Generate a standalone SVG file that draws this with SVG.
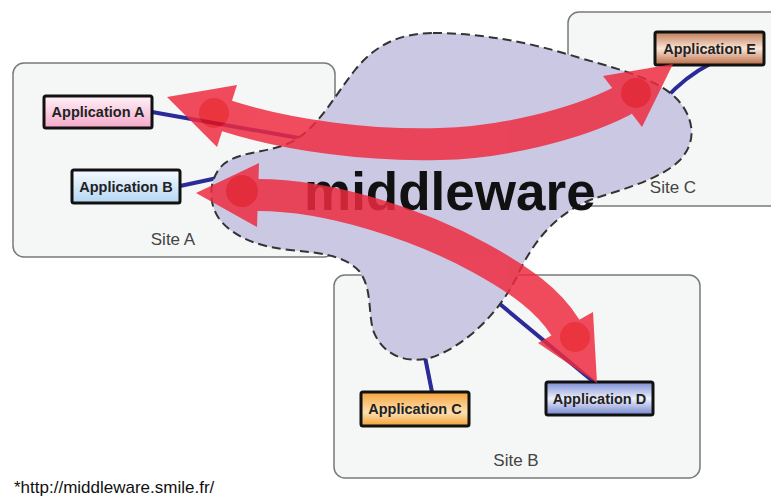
<svg xmlns="http://www.w3.org/2000/svg" width="771" height="501" viewBox="0 0 771 501">
  <defs>
    <linearGradient id="gPink" x1="0" y1="0" x2="0" y2="1">
      <stop offset="0" stop-color="#fff2f8"/>
      <stop offset="1" stop-color="#f4a9c8"/>
    </linearGradient>
    <linearGradient id="gSky" x1="0" y1="0" x2="0" y2="1">
      <stop offset="0" stop-color="#f6fbff"/>
      <stop offset="1" stop-color="#b4d6f2"/>
    </linearGradient>
    <linearGradient id="gBrown" x1="0" y1="0" x2="0" y2="1">
      <stop offset="0" stop-color="#c07a55"/>
      <stop offset="0.5" stop-color="#fae6d8"/>
      <stop offset="1" stop-color="#b86c46"/>
    </linearGradient>
    <linearGradient id="gOrange" x1="0" y1="0" x2="0" y2="1">
      <stop offset="0" stop-color="#f6a23a"/>
      <stop offset="0.6" stop-color="#fde0b2"/>
      <stop offset="1" stop-color="#f2a033"/>
    </linearGradient>
    <linearGradient id="gBlue" x1="0" y1="0" x2="0" y2="1">
      <stop offset="0" stop-color="#7a8cd4"/>
      <stop offset="0.5" stop-color="#eef0fb"/>
      <stop offset="1" stop-color="#7486cf"/>
    </linearGradient>
  </defs>
  <style>
    .site { fill: #f5f6f6; stroke: #7a7a7a; stroke-width: 1.5; }
    .site-label { font-family: "Liberation Sans", Arial, sans-serif; font-size: 17px; fill: #444; text-anchor: middle; }
    .link { fill: none; stroke: #2a2a98; stroke-width: 4; }
    .cloud { fill: #cbc8e4; stroke: #333; stroke-width: 2; stroke-dasharray: 9 5; }
    .app { stroke: #111; stroke-width: 3; }
    .app-label { font-family: "Liberation Sans", Arial, sans-serif; font-weight: bold; font-size: 14.5px; fill: #222; text-anchor: middle; }
    .flow { fill: none; stroke: #ee2b3f; stroke-width: 32; }
    .head { fill: #ee2b3f; }
    .glow { fill: #e8101c; }
  </style>

  <rect width="771" height="501" fill="#ffffff"/>

  <!-- sites -->
  <g id="site-a">
    <rect class="site" x="13" y="63" width="322" height="194" rx="11"/>
    <text class="site-label" x="173" y="245">Site A</text>
  </g>
  <g id="site-c">
    <rect class="site" x="568" y="12" width="220" height="194" rx="11"/>
    <text class="site-label" x="673" y="193">Site C</text>
  </g>
  <g id="site-b">
    <rect class="site" x="334" y="275" width="366" height="203" rx="11"/>
    <text class="site-label" x="516" y="466">Site B</text>
  </g>

  <!-- links from applications into the middleware -->
  <g id="connectors">
    <path class="link" d="M152,112 L310,140"/>
    <path class="link" d="M180,186 L222,177"/>
    <path class="link" d="M710,64 Q686,76 664,100"/>
    <path class="link" d="M432,392 L424,352"/>
    <path class="link" d="M595,383 L495,300"/>
  </g>

  <!-- middleware cloud -->
  <g id="middleware">
    <path class="cloud" d="M433,33 C480,33 530,42 580,58 C630,72 665,82 682,105 C696,125 694,145 680,160 C660,180 620,190 590,200 C555,215 535,240 520,270 C505,305 470,345 430,358 C400,365 380,350 373,330 C368,310 372,290 360,272 C345,255 320,253 290,250 C260,247 235,238 220,220 C205,200 210,170 230,160 C250,150 275,152 295,140 C320,125 335,95 355,70 C375,45 400,33 433,33 Z"/>
  </g>

  <!-- applications -->
  <g id="app-a">
    <rect class="app" x="44" y="96" width="108" height="32" rx="2" fill="url(#gPink)"/>
    <text class="app-label" x="98" y="117">Application A</text>
  </g>
  <g id="app-b">
    <rect class="app" x="72" y="170" width="108" height="33" rx="2" fill="url(#gSky)"/>
    <text class="app-label" x="126" y="191.5">Application B</text>
  </g>
  <g id="app-e">
    <rect class="app" x="655" y="32" width="109" height="33" rx="2" fill="url(#gBrown)"/>
    <text class="app-label" x="709.5" y="53.5">Application E</text>
  </g>
  <g id="app-c">
    <rect class="app" x="361" y="392" width="108" height="34" rx="2" fill="url(#gOrange)"/>
    <text class="app-label" x="415" y="414">Application C</text>
  </g>
  <g id="app-d">
    <rect class="app" x="546" y="382" width="107" height="33" rx="2" fill="url(#gBlue)"/>
    <text class="app-label" x="599.5" y="403.5">Application D</text>
  </g>

  <text x="304" y="210" font-family="'Liberation Sans', Arial, sans-serif" font-weight="bold" font-size="53" fill="#111">middleware</text>

  <!-- message flows across the middleware -->
  <g id="flow-a-e" opacity="0.84">
    <path class="flow" d="M222,114 L227,116 C290,136 370,146 440,144 C500,143 575,125 622,101 L628,97"/>
    <polygon class="head" points="167,97 237,85 217,147"/>
    <polygon class="head" points="673,64 603,76 642,127"/>
    <circle class="glow" cx="214" cy="113" r="15"/>
    <circle class="glow" cx="636" cy="93" r="15"/>
  </g>
  <g id="flow-b-d" opacity="0.84">
    <path class="flow" d="M252,195 L258,195 C330,195 420,225 480,258 C520,280 548,300 565,327 L569,334"/>
    <polygon class="head" points="196,193 259,163 257,227"/>
    <polygon class="head" points="597,383 593,312 538,343"/>
    <circle class="glow" cx="242" cy="191" r="16"/>
    <circle class="glow" cx="575" cy="337" r="15"/>
  </g>

  <text x="14" y="493" font-family="'Liberation Sans', Arial, sans-serif" font-size="17" fill="#111">*http://middleware.smile.fr/</text>
</svg>
